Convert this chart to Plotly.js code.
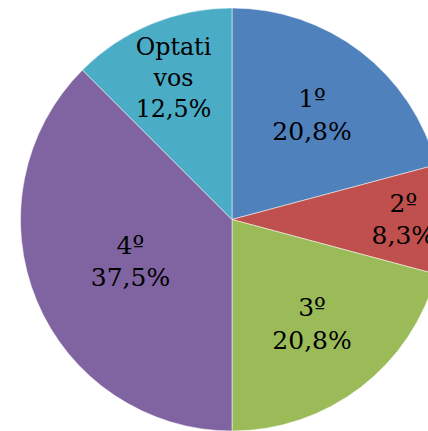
<!DOCTYPE html>
<html><head><meta charset="utf-8">
<script src="https://cdn.plot.ly/plotly-3.0.1.min.js"></script>
<style>html,body{margin:0;padding:0;overflow:hidden;background:#fff;width:428px;height:431px}</style>
</head><body><div id="chart"></div>
<script>
const labels = ["1º", "2º", "3º", "4º", "Optati<br>vos"];
const values = [5, 2, 5, 9, 3];
const colors = ["#4F81BD", "#C0504D", "#9BBB59", "#8064A2", "#4BACC6"];

Plotly.newPlot('chart', [{
  type: 'pie',
  labels: labels,
  values: values,
  sort: false,
  direction: 'clockwise',
  rotation: 0,
  marker: {colors: colors, line: {color: '#ffffff', width: 0.5}},
  texttemplate: '%{label}<br>%{percent:.1%}',
  textposition: 'inside',
  insidetextorientation: 'horizontal',
  textfont: {family: 'DejaVu Serif', size: 25, color: '#000'},
  hoverinfo: 'none'
}], {
  width: 464, height: 431,
  margin: {l: 20, r: 20, t: 8, b: 0},
  showlegend: false,
  separators: ',.',
  paper_bgcolor: '#fff'
}, {staticPlot: true});
</script></body></html>
